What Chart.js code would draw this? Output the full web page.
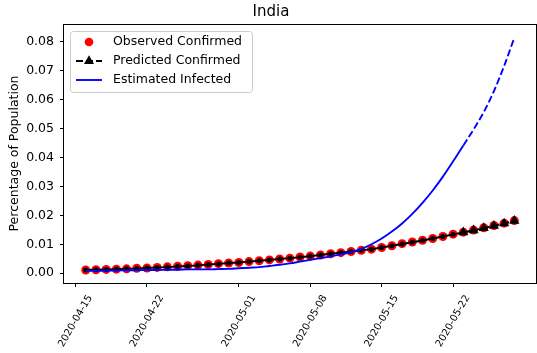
<!DOCTYPE html>
<html>
<head>
<meta charset="utf-8">
<script src="https://cdn.jsdelivr.net/npm/chart.js@4/dist/chart.umd.min.js"></script>
<style>
  html, body { margin: 0; padding: 0; background: #fff; overflow: hidden; }
  #wrap { width: 542px; height: 353px; }
</style>
</head>
<body>
<div id="wrap"><canvas id="chart" width="542" height="353"></canvas></div>
<script>
// ---- data ----
const startDate = '2020-04-15';
const dates = [
  '2020-04-16','2020-04-17','2020-04-18','2020-04-19','2020-04-20','2020-04-21','2020-04-22',
  '2020-04-23','2020-04-24','2020-04-25','2020-04-26','2020-04-27','2020-04-28','2020-04-29',
  '2020-04-30','2020-05-01','2020-05-02','2020-05-03','2020-05-04','2020-05-05','2020-05-06',
  '2020-05-07','2020-05-08','2020-05-09','2020-05-10','2020-05-11','2020-05-12','2020-05-13',
  '2020-05-14','2020-05-15','2020-05-16','2020-05-17','2020-05-18','2020-05-19','2020-05-20',
  '2020-05-21','2020-05-22','2020-05-23','2020-05-24','2020-05-25','2020-05-26','2020-05-27',
  '2020-05-28'
];
const observed = [
  0.0011, 0.0012, 0.0013, 0.0014, 0.0015, 0.0017, 0.0018, 0.0020, 0.0022, 0.0024, 0.0026, 0.0028, 0.0030,
  0.0033, 0.0035, 0.0037, 0.0040, 0.0043, 0.0046, 0.0049, 0.0052, 0.0056, 0.0059, 0.0063, 0.0067, 0.0071,
  0.0075, 0.0079, 0.0083, 0.0089, 0.0095, 0.0102, 0.0108, 0.0114, 0.0120, 0.0127, 0.0135, 0.0142, 0.0149,
  0.0157, 0.0165, 0.0173, 0.0182
];
// fitted part (first 38 days), forecast part (last 6 days)
const predictedFit = [
  0.0011, 0.0012, 0.0013, 0.0014, 0.0015, 0.0016, 0.0018, 0.0020, 0.0021, 0.0023, 0.0025, 0.0027, 0.0030,
  0.0032, 0.0035, 0.0037, 0.0040, 0.0043, 0.0046, 0.0049, 0.0052, 0.0055, 0.0059, 0.0063, 0.0067, 0.0071,
  0.0075, 0.0079, 0.0083, 0.0089, 0.0095, 0.0101, 0.0107, 0.0113, 0.0120, 0.0127, 0.0134, 0.0141
];
const forecastDates = ['2020-05-23','2020-05-24','2020-05-25','2020-05-26','2020-05-27','2020-05-28'];
const predictedForecast = [0.0141, 0.0148, 0.0156, 0.0164, 0.0172, 0.0181];
const infected = [
  0.0008, 0.0008, 0.0009, 0.0009, 0.0010, 0.0010, 0.0011, 0.0011, 0.0012, 0.0012, 0.0013, 0.0013, 0.0013,
  0.0014, 0.0015, 0.0017, 0.0019, 0.0021, 0.0025, 0.0029, 0.0034, 0.0040, 0.0046, 0.0052, 0.0058, 0.0065,
  0.0073, 0.0084, 0.0100, 0.0120, 0.0144, 0.0172, 0.0205, 0.0243, 0.0286, 0.0334, 0.0387, 0.0442
];
const infectedForecast = [0.0442, 0.0497, 0.0557, 0.0630, 0.0717, 0.0815];
const xTickLabels = ['2020-04-15','2020-04-22','2020-05-01','2020-05-08','2020-05-15','2020-05-22'];
const yTickValues = [0, 0.01, 0.02, 0.03, 0.04, 0.05, 0.06, 0.07, 0.08];

const FONT = 'DejaVu Sans';

function dayOf(s){
  return (Date.parse(s) - Date.parse(startDate)) / 86400000;
}
function pts(ds, vs){
  return vs.map((v, i) => ({ x: dayOf(ds[i]), y: v }));
}

// frame (all four spines) + rotated centred x labels + legend inside the axes
const decorPlugin = {
  id: 'decor',
  afterDraw(chart){
    const ctx = chart.ctx;
    const a = chart.chartArea;
    const xs = chart.scales.x;
    ctx.save();
    ctx.strokeStyle = '#000';
    ctx.lineWidth = 1;
    ctx.strokeRect(Math.round(a.left) - 0.5, Math.round(a.top) + 0.5,
      Math.round(a.right) - Math.round(a.left) + 1, Math.round(a.bottom) - Math.round(a.top));

    // x tick labels
    ctx.fillStyle = '#000';
    ctx.font = '10px "' + FONT + '"';
    ctx.textAlign = 'center';
    ctx.textBaseline = 'middle';
    xTickLabels.forEach(lbl => {
      const px = xs.getPixelForValue(dayOf(lbl));
      ctx.save();
      ctx.translate(px, 321);
      ctx.rotate(-Math.PI / 3);
      ctx.fillText(lbl, 0, 0);
      ctx.restore();
    });

    // legend
    const bx = 70.5, by = 31.5, bw = 182, bh = 61, r = 3;
    ctx.beginPath();
    ctx.moveTo(bx + r, by);
    ctx.lineTo(bx + bw - r, by);
    ctx.arcTo(bx + bw, by, bx + bw, by + r, r);
    ctx.lineTo(bx + bw, by + bh - r);
    ctx.arcTo(bx + bw, by + bh, bx + bw - r, by + bh, r);
    ctx.lineTo(bx + r, by + bh);
    ctx.arcTo(bx, by + bh, bx, by + bh - r, r);
    ctx.lineTo(bx, by + r);
    ctx.arcTo(bx, by, bx + r, by, r);
    ctx.closePath();
    ctx.fillStyle = 'rgba(255,255,255,0.8)';
    ctx.fill();
    ctx.strokeStyle = '#cccccc';
    ctx.stroke();

    const rows = [42, 61, 80];
    const hx0 = 76, hx1 = 102, hc = 89;
    // observed
    ctx.fillStyle = '#ff0000';
    ctx.beginPath(); ctx.arc(hc, rows[0], 4.3, 0, Math.PI * 2); ctx.fill();
    // predicted
    ctx.strokeStyle = '#000';
    ctx.lineWidth = 1.9;
    ctx.setLineDash([7, 3]);
    ctx.beginPath(); ctx.moveTo(hx0, rows[1]); ctx.lineTo(hx1, rows[1]); ctx.stroke();
    ctx.setLineDash([]);
    ctx.fillStyle = '#000';
    const tr = 5.8;
    ctx.beginPath();
    ctx.moveTo(hc, rows[1] - tr);
    ctx.lineTo(hc + tr * 0.866, rows[1] + tr * 0.5);
    ctx.lineTo(hc - tr * 0.866, rows[1] + tr * 0.5);
    ctx.closePath(); ctx.fill();
    // infected
    ctx.strokeStyle = '#0000ff';
    ctx.beginPath(); ctx.moveTo(hx0, rows[2]); ctx.lineTo(hx1, rows[2]); ctx.stroke();

    ctx.fillStyle = '#000';
    ctx.font = '12.5px "' + FONT + '"';
    ctx.textAlign = 'left';
    ctx.textBaseline = 'middle';
    ctx.fillText('Observed Confirmed', 113, rows[0]);
    ctx.fillText('Predicted Confirmed', 113, rows[1]);
    ctx.fillText('Estimated Infected', 113, rows[2]);
    ctx.restore();
  }
};

const chart = new Chart(document.getElementById('chart').getContext('2d'), {
  type: 'line',
  data: {
    datasets: [
      {
        label: 'Observed Confirmed', data: pts(dates, observed), showLine: false, order: 3,
        pointRadius: 4.5, pointBackgroundColor: '#ff0000', pointBorderColor: '#ff0000', pointBorderWidth: 0
      },
      {
        label: 'Predicted Confirmed fit', data: pts(dates, predictedFit), order: 2,
        borderColor: '#000', borderWidth: 1.9, tension: 0,
        pointRadius: 2.5, pointBackgroundColor: '#000', pointBorderWidth: 0
      },
      {
        label: 'Predicted Confirmed', data: pts(forecastDates, predictedForecast), order: 2,
        borderColor: '#000', borderWidth: 1.9, borderDash: [7, 3], tension: 0,
        pointStyle: 'triangle', pointRadius: 5.8, pointBackgroundColor: '#000', pointBorderWidth: 0
      },
      {
        label: 'Estimated Infected', data: pts(dates, infected), order: 1,
        borderColor: '#0000ff', borderWidth: 1.9, cubicInterpolationMode: 'monotone', pointRadius: 0
      },
      {
        label: 'Estimated Infected forecast', data: pts(forecastDates, infectedForecast), order: 1,
        borderColor: '#0000ff', borderWidth: 1.9, borderDash: [7, 3], cubicInterpolationMode: 'monotone', pointRadius: 0
      }
    ]
  },
  options: {
    responsive: false,
    devicePixelRatio: 1,
    animation: false,
    events: [],
    layout: { padding: 0 },
    plugins: {
      legend: { display: false },
      tooltip: { enabled: false },
      title: {
        display: true, text: 'India', color: '#000',
        font: { family: FONT, size: 15, weight: 'normal' },
        padding: { top: 3, bottom: 3 }
      }
    },
    scales: {
      x: {
        type: 'linear', min: -1.13, max: 45.14,
        afterBuildTicks: s => { s.ticks = xTickLabels.map(l => ({ value: dayOf(l) })); },
        afterFit: s => { s.height = 70; },
        ticks: { display: false },
        grid: { display: true, drawOnChartArea: false, drawTicks: true, tickLength: 4, color: '#000' },
        border: { display: false }
      },
      y: {
        type: 'linear', min: -0.0034, max: 0.0862,
        afterBuildTicks: s => { s.ticks = yTickValues.map(v => ({ value: v })); },
        afterFit: s => { s.width = 64; },
        ticks: {
          color: '#000', padding: 6,
          font: { family: FONT, size: 12.5 },
          callback: v => Number(v).toFixed(2)
        },
        grid: { display: true, drawOnChartArea: false, drawTicks: true, tickLength: 4, color: '#000' },
        border: { display: false },
        title: {
          display: true, text: 'Percentage of Population', color: '#000',
          font: { family: FONT, size: 12.5 },
          padding: { top: 7.5, bottom: 0 }
        }
      }
    }
  },
  plugins: [decorPlugin]
});
</script>
</body>
</html>
